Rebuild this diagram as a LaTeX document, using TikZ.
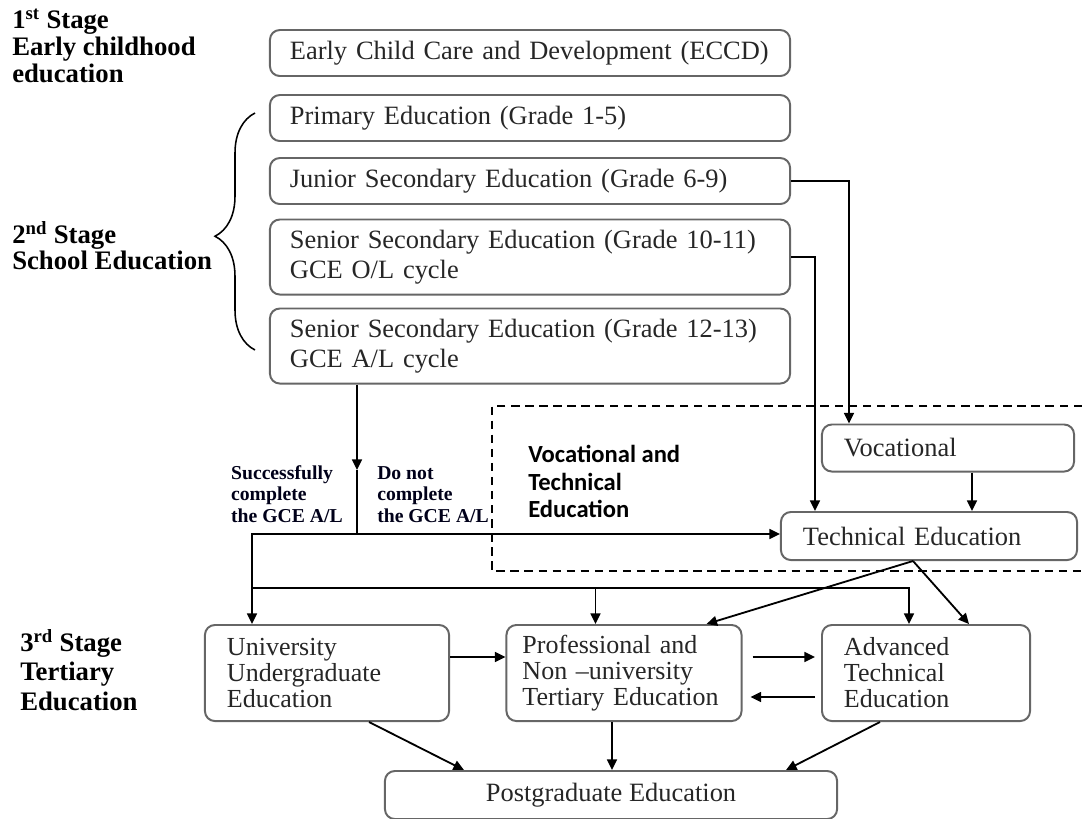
\documentclass[tikz,border=0pt]{standalone}
\usepackage{fontspec}
\setmainfont{Liberation Serif}
\newfontfamily\vtefont{Carlito}
\usepackage{tikz}
\usetikzlibrary{positioning,arrows.meta,decorations.pathreplacing}

\begin{document}
\begin{tikzpicture}[
  x=0.025cm, y=-0.025cm,
  box/.style={draw=black!60, line width=1.4pt, rounded corners=7pt, align=left, inner xsep=0.55cm, text=black!85, font=\fontsize{18.8}{21.5}\selectfont},
  wide/.style={box, text width=12cm, inner xsep=0.5cm},
  tert/.style={box, minimum height=2.4cm, font=\fontsize{18.5}{18.5}\selectfont},
  stagelbl/.style={anchor=north west, align=left, inner sep=0pt, font=\bfseries\fontsize{19}{19}\selectfont},
  pathlbl/.style={align=left, inner sep=0pt, text=black!90!blue, font=\bfseries\fontsize{14}{15.5}\selectfont},
  arr/.style={line width=1.3pt, -{Triangle[length=7.5pt,width=7pt]}},
  link/.style={line width=1.3pt}
]
\useasboundingbox (0,0) rectangle (1082,818);

% Stage labels
\node[stagelbl] (stage1) at (12,9) {1\textsuperscript{st} Stage\\Early childhood\\education};
\node[stagelbl] (stage2) at (12,221) {2\textsuperscript{nd} Stage\\School Education};
\node[stagelbl, font=\bfseries\fontsize{19}{21}\selectfont] (stage3) at (20,629) {3\textsuperscript{rd} Stage\\Tertiary\\Education};
\draw[decorate, decoration={brace, amplitude=1cm, aspect=0.48}, line width=1.1pt] (255,350) -- (255,113);

% School boxes
\node[wide, minimum height=1.15cm] (eccd) at (530,53) {Early Child Care and Development (ECCD)};
\node[wide, minimum height=1.15cm] (primary) at (530,118) {Primary Education (Grade 1-5)};
\node[wide, minimum height=1.15cm] (junior) at (530,181) {Junior Secondary Education (Grade 6-9)};
\node[wide, minimum height=1.875cm] (senior1) at (530,257) {Senior Secondary Education (Grade 10-11)\\GCE O/L cycle};
\node[wide, minimum height=1.875cm] (senior2) at (530,346) {Senior Secondary Education (Grade 12-13)\\GCE A/L cycle};

% Vocational and technical block
\draw[dashed, dash pattern=on 6pt off 4pt, line width=1.2pt] (1082,406) -| (492,571) -- (1082,571);
\node[anchor=north west, align=left, inner sep=0pt, font=\vtefont\bfseries\fontsize{17.5}{19.5}\selectfont] (vte) at (528,445) {Vocational and\\Technical\\Education};
\node[box, text width=5.2cm, minimum height=1.175cm] (voc) at (948,448) {Vocational};
\node[box, text width=6.3cm, minimum height=1.2cm] (tech) at (929,536) {Technical Education};

% Tertiary boxes
\node[tert, text width=5cm] (univ) at (327,673) {University\\Undergraduate\\Education};
\node[tert, text width=5.075cm, inner xsep=0.4cm] (prof) at (624,673) {Professional and\\Non --university\\Tertiary Education};
\node[tert, text width=4.1cm] (adv) at (926,673) {Advanced\\Technical\\Education};
\node[box, align=center, minimum width=11.3cm, minimum height=1.2cm] (post) at (611,795) {Postgraduate Education};

% School to vocational / technical
\draw[arr] (junior.east) -| ([xshift=0.7cm]voc.north west);
\draw[arr] (senior1.east) -| ([xshift=0.875cm]tech.north west);
\coordinate (vocout) at ([xshift=0.6cm]voc.south);
\draw[arr] (vocout) -- (vocout |- tech.north);

% A/L split
\coordinate (alout) at ([xshift=2.2cm]senior2.south west);
\coordinate (mid) at (alout |- 0,470);
\coordinate (fork) at (alout |- 0,534);
\draw[arr] (alout) -- (mid);
\draw[link] (mid) -- (fork);
\draw[arr] (fork) -| ([xshift=1.2cm]univ.north west);
\draw[arr] (fork) -- (fork -| tech.west);
\node[pathlbl, above left=0.27cm and 0.35cm of fork] (succ) {Successfully\\complete\\the GCE A/L};
\node[pathlbl, above right=0.27cm and 0.5cm of fork] (notdone) {Do not\\complete\\the GCE A/L};

% Entry bus to tertiary
\coordinate (bus) at ([xshift=1.2cm]univ.north west |- 0,588);
\coordinate (profin) at ([xshift=2.25cm]prof.north west);
\coordinate (advin) at ([xshift=2.2cm]adv.north west);
\draw[arr] (bus) -| (advin);
\draw[arr] (bus -| profin) -- (profin);
\draw[arr] ([xshift=-0.4cm]tech.south) -- ([xshift=-0.9cm]prof.north east);
\draw[arr] ([xshift=-0.4cm]tech.south) -- ([xshift=-1.55cm]adv.north east);

% Tertiary links
\draw[arr] ([yshift=0.4cm]univ.east) -- ([yshift=0.4cm]prof.west);
\draw[arr, shorten <=0.25cm, shorten >=0.15cm] ([yshift=0.4cm]prof.east) -- ([yshift=0.4cm]adv.west);
\draw[arr, shorten <=0.15cm, shorten >=0.2cm] ([yshift=-0.6cm]adv.west) -- ([yshift=-0.6cm]prof.east);
\draw[arr] ([xshift=1.05cm]univ.south) -- ([xshift=2cm]post.north west);
\coordinate (profout) at ([xshift=-0.3cm]prof.south);
\draw[arr] (profout) -- (profout |- post.north);
\draw[arr] ([xshift=-1.15cm]adv.south) -- ([xshift=-1.3cm]post.north east);

\end{tikzpicture}
\end{document}
